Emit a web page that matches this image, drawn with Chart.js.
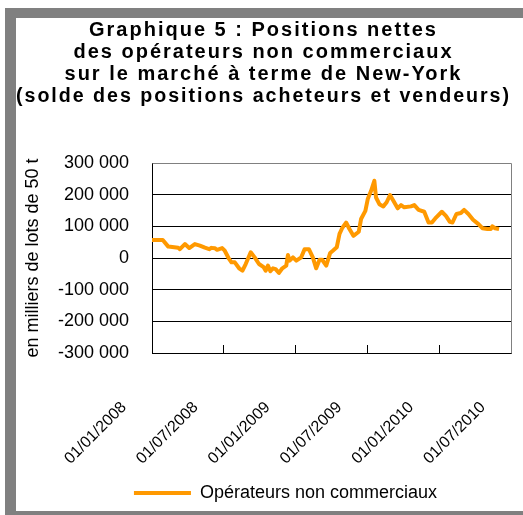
<!DOCTYPE html>
<html><head><meta charset="utf-8">
<script src="https://cdn.jsdelivr.net/npm/chart.js@4/dist/chart.umd.min.js"></script>
<style>
html,body{margin:0;padding:0;background:#fff;}
#wrap{position:relative;width:523px;height:515px;overflow:hidden;}
canvas{position:absolute;left:0;top:0;}
.bar{position:absolute;background:#808080;}
</style></head><body>
<div id="wrap">
<canvas id="c" width="523" height="515"></canvas>
<div class="bar" style="left:5px;top:8px;width:518px;height:10px"></div>
<div class="bar" style="left:5px;top:8px;width:11px;height:507px"></div>
<div class="bar" style="left:5px;top:511px;width:518px;height:4px"></div>
</div>
<script>
const titleLines = [
  'Graphique 5 : Positions nettes',
  'des opérateurs non commerciaux',
  'sur le marché à terme de New-York',
  '(solde des positions acheteurs et vendeurs)'
];
const yAxisTitle = 'en milliers de lots de 50 t';
const seriesLabel = 'Opérateurs non commerciaux';
const xTickMonths = [0, 6, 12, 18, 24, 30];
const xTickLabels = ['01/01/2008', '01/07/2008', '01/01/2009', '01/07/2009', '01/01/2010', '01/07/2010'];
const yTickValues = [-300000, -200000, -100000, 0, 100000, 200000, 300000];

// time position in months since 01/01/2008
const monthsSinceJan2008 = [
  0, 0.9, 1.36, 2.19, 2.33, 2.75, 3.11, 3.58, 4.0, 4.42,
  4.78, 4.97, 5.25, 5.44, 5.86, 6.08, 6.44, 6.64, 6.92, 7.28,
  7.56, 7.83, 8.25, 8.58, 8.94, 9.33, 9.5, 9.69, 9.89, 10.11,
  10.33, 10.61, 10.89, 11.22, 11.36, 11.5, 11.78, 12.06, 12.47, 12.75,
  13.11, 13.44, 13.72, 14.0, 14.22, 14.56, 14.89, 15.11, 15.44, 15.67,
  15.89, 16.22, 16.5, 16.83, 17.28, 17.47, 17.83, 18.03, 18.31, 18.58,
  18.72, 19.0, 19.33, 19.61, 19.89, 20.17, 20.53, 20.81, 21.08, 21.64,
  21.92, 22.28, 22.75, 23.11, 23.39, 23.67, 24.22, 24.56, 24.89, 25.11,
  25.44, 25.81, 26.08, 26.44, 26.83, 27.28, 27.61, 28.03, 28.31, 28.44,
  28.67, 29.0
];
const netPositions = [
  57000, 57000, 36000, 32500, 28000, 44000, 31500, 44000, 39000, 32500,
  28000, 32000, 31000, 26000, 31500, 23000, -3000, -13600, -13600, -32500,
  -40000, -19000, 18000, 2000, -19000, -29000, -40000, -24000, -42000, -32500,
  -35000, -47000, -32500, -24000, 9500, -8500, 2000, -8500, 2000, 28000,
  28000, 2000, -32500, -5500, -5500, -24000, 16000, 23000, 34000, 76000,
  94000, 112000, 91500, 70000, 83000, 123000, 149000, 186000, 212000, 244000,
  191000, 170000, 163000, 176000, 199000, 181000, 157000, 167000, 160000, 163000,
  167000, 152000, 146000, 112000, 112000, 125000, 146000, 133000, 114000, 112000,
  139000, 142000, 152000, 139000, 121000, 107000, 94000, 91500, 91500, 100000,
  94000, 91500
];

const FONT = "'Liberation Sans', Arial, sans-serif";
Chart.defaults.font.family = FONT;
Chart.defaults.color = '#000';

function fmt(v) {
  const s = String(Math.abs(v)).replace(/\B(?=(\d{3})+(?!\d))/g, ' ');
  return (v < 0 ? '-' : '') + s;
}

const titleSpacing = {
  id: 'titleSpacing',
  afterInit(chart) {
    const tb = chart.titleBlock;
    if (!tb) return;
    const orig = tb.draw.bind(tb);
    tb.draw = function (area) {
      const ctx = chart.ctx;
      const prev = ctx.letterSpacing;
      ctx.letterSpacing = '2px';
      orig(area);
      ctx.letterSpacing = prev || '0px';
    };
  }
};
const legendShift = {
  id: 'legendShift',
  afterLayout(chart) {
    const lg = chart.legend;
    if (lg) { lg.left += 22; lg.right += 22; }
  }
};
const plotFrame = {
  id: 'plotFrame',
  beforeDatasetsDraw(chart) {
    const {ctx, chartArea: a} = chart;
    ctx.save();
    ctx.strokeStyle = '#808080';
    ctx.lineWidth = 1;
    ctx.beginPath();
    ctx.moveTo(Math.round(a.left) + 0.5, Math.round(a.top) + 0.5);
    ctx.lineTo(Math.round(a.right) + 0.5, Math.round(a.top) + 0.5);
    ctx.lineTo(Math.round(a.right) + 0.5, Math.round(a.bottom) + 0.5);
    ctx.stroke();
    ctx.restore();
  }
};

new Chart(document.getElementById('c'), {
  type: 'line',
  data: {
    datasets: [{
      label: seriesLabel,
      data: monthsSinceJan2008.map((m, i) => ({x: m, y: netPositions[i]})),
      borderColor: '#FF9900',
      backgroundColor: '#FF9900',
      borderWidth: 4,
      pointRadius: 0,
      pointHoverRadius: 0,
      tension: 0,
      fill: false,
      borderJoinStyle: 'round'
    }]
  },
  options: {
    responsive: false,
    animation: false,
    devicePixelRatio: 1,
    layout: {padding: {left: 16, right: 12, top: 18, bottom: 3}},
    plugins: {
      tooltip: {enabled: false},
      title: {
        display: true,
        text: titleLines,
        color: '#000',
        font: {size: 20, weight: 'bold', lineHeight: 1.1},
        padding: {top: 1, bottom: 56}
      },
      legend: {
        position: 'bottom',
        labels: {
          usePointStyle: true,
          pointStyle: 'line',
          pointStyleWidth: 57,
          color: '#000',
          font: {size: 18},
          padding: 10
        }
      }
    },
    scales: {
      x: {
        type: 'linear',
        min: 0,
        max: 30,
        afterBuildTicks(s) { s.ticks = xTickMonths.map(v => ({value: v})); },
        afterFit(s) { s.height = 121; s.paddingLeft = 0; s.paddingRight = 0; },
        ticks: {
          autoSkip: false,
          minRotation: 45,
          maxRotation: 45,
          labelOffset: -28,
          padding: 53,
          color: '#000',
          font: {size: 16},
          callback(v) { const i = xTickMonths.indexOf(v); return i >= 0 ? xTickLabels[i] : ''; }
        },
        grid: {drawOnChartArea: false, drawTicks: true, tickLength: -8, color: '#000'},
        border: {color: '#000', width: 1}
      },
      y: {
        min: -300000,
        max: 300000,
        afterBuildTicks(s) { s.ticks = yTickValues.map(v => ({value: v})); },
        afterFit(s) { s.width = 136; },
        ticks: {
          color: '#000',
          font: {size: 18},
          padding: 23,
          callback(v) { return fmt(v); }
        },
        grid: {
          drawTicks: false,
          color(ctx) { return ctx.tick && ctx.tick.value === 300000 ? '#808080' : '#000'; }
        },
        border: {color: '#000', width: 1},
        title: {
          display: true,
          text: yAxisTitle,
          color: '#000',
          font: {size: 18},
          padding: {top: 6, bottom: 0}
        }
      }
    }
  },
  plugins: [titleSpacing, legendShift, plotFrame]
});
</script>
</body></html>
